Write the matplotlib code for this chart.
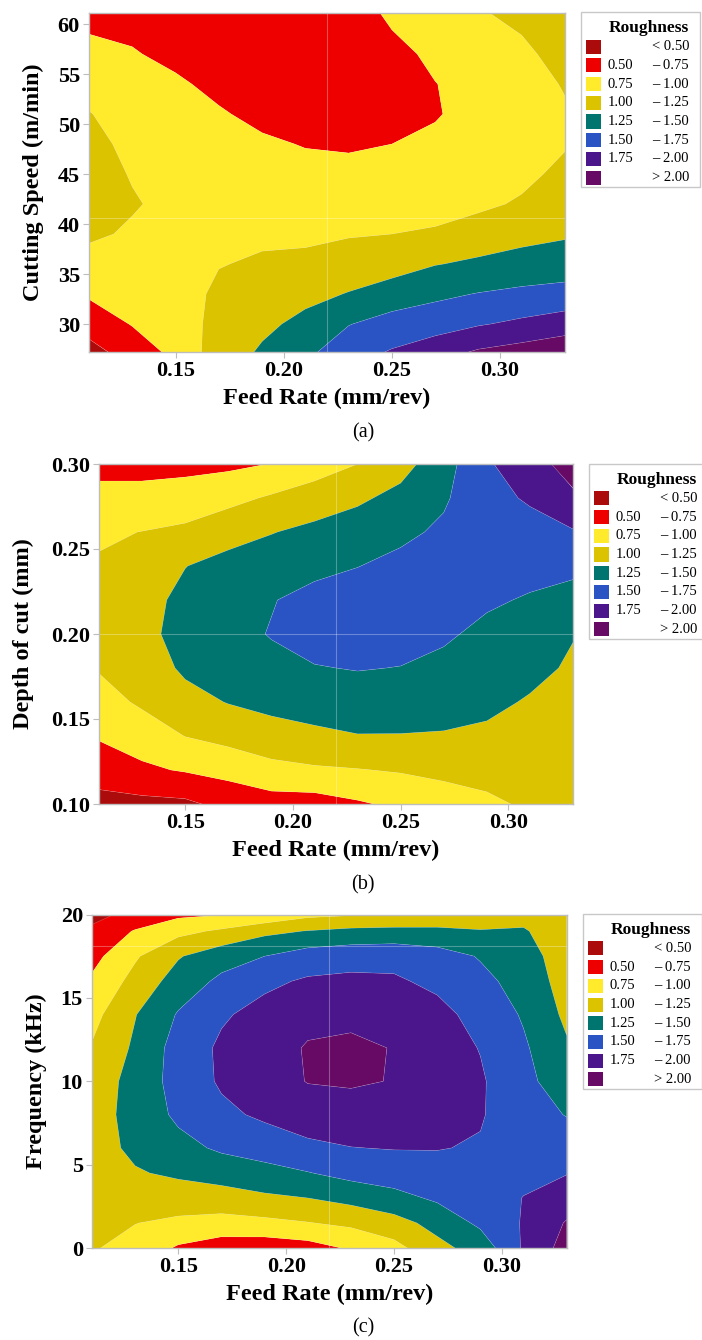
import numpy as np
import matplotlib
matplotlib.use("Agg")
import matplotlib.pyplot as plt
from matplotlib.patches import Rectangle

plt.rcParams['font.family'] = ['Liberation Serif', 'DejaVu Serif']

# ---------------- data ----------------
feed_rate = [0.11, 0.13, 0.15, 0.17, 0.19, 0.21, 0.23, 0.25, 0.27, 0.29, 0.31, 0.33]

# (a) cutting speed grid; each inner list = one feed-rate column (bottom -> top)
speed_a = [27.2, 30, 33, 36, 39, 42, 45, 48, 51, 54, 57, 61.13]
roughness_a = [
    [0.42, 0.593, 0.784, 0.911, 1.04, 1.08, 1.10, 1.06, 1.01, 0.912, 0.815, 0.68],
    [0.60, 0.764, 0.833, 0.90, 0.97, 1.02, 0.985, 0.95, 0.90, 0.84, 0.765, 0.68],
    [0.82, 0.85, 0.88, 0.92, 0.93, 0.94, 0.93, 0.90, 0.85, 0.78, 0.70, 0.63],
    [1.12, 1.09, 1.05, 0.99, 0.95, 0.92, 0.88, 0.83, 0.77, 0.70, 0.64, 0.58],
    [1.28, 1.20, 1.12, 1.03, 0.96, 0.91, 0.85, 0.78, 0.70, 0.63, 0.58, 0.54],
    [1.44, 1.31, 1.19, 1.06, 0.95, 0.88, 0.81, 0.74, 0.67, 0.60, 0.56, 0.53],
    [1.65, 1.49, 1.26, 1.13, 0.98, 0.90, 0.82, 0.72, 0.64, 0.60, 0.60, 0.62],
    [1.77, 1.60, 1.36, 1.15, 1.00, 0.92, 0.84, 0.75, 0.68, 0.65, 0.68, 0.80],
    [1.90, 1.64, 1.45, 1.24, 1.02, 0.94, 0.86, 0.79, 0.735, 0.745, 0.80, 0.90],
    [2.03, 1.73, 1.51, 1.29, 1.12, 0.95, 0.89, 0.84, 0.82, 0.83, 0.88, 0.98],
    [2.10, 1.80, 1.55, 1.35, 1.17, 1.03, 0.94, 0.89, 0.87, 0.89, 0.95, 1.06],
    [2.17, 1.88, 1.58, 1.38, 1.22, 1.14, 1.06, 0.98, 0.97, 1.02, 1.09, 1.18],
]

# (b) depth of cut grid
depth_b = [0.10, 0.12, 0.14, 0.16, 0.18, 0.20, 0.22, 0.24, 0.26, 0.28, 0.30]
roughness_b = [
    [0.43, 0.595, 0.776, 0.897, 1.02, 1.08, 1.09, 1.03, 0.96, 0.80, 0.70],
    [0.43, 0.71, 0.86, 1.04, 1.12, 1.18, 1.17, 1.11, 1.005, 0.80, 0.70],
    [0.45, 0.77, 1.005, 1.17, 1.29, 1.34, 1.31, 1.245, 1.06, 0.83, 0.70],
    [0.58, 0.83, 1.08, 1.26, 1.38, 1.44, 1.42, 1.33, 1.16, 0.93, 0.70],
    [0.64, 0.93, 1.15, 1.32, 1.45, 1.51, 1.49, 1.38, 1.24, 1.03, 0.755],
    [0.64, 0.97, 1.19, 1.38, 1.49, 1.58, 1.56, 1.45, 1.31, 1.12, 0.88],
    [0.72, 0.99, 1.24, 1.40, 1.51, 1.60, 1.61, 1.495, 1.37, 1.21, 1.00],
    [0.80, 1.02, 1.24, 1.38, 1.495, 1.58, 1.62, 1.56, 1.45, 1.32, 1.16],
    [0.88, 1.06, 1.23, 1.36, 1.45, 1.53, 1.59, 1.59, 1.54, 1.47, 1.40],
    [0.95, 1.09, 1.21, 1.30, 1.38, 1.45, 1.53, 1.60, 1.64, 1.67, 1.72],
    [1.04, 1.11, 1.18, 1.23, 1.31, 1.39, 1.48, 1.57, 1.66, 1.78, 1.90],
    [1.10, 1.13, 1.16, 1.19, 1.22, 1.26, 1.38, 1.58, 1.73, 1.96, 2.10],
]

# (c) frequency grid
freq_c = [0, 1.5, 3, 4.5, 6, 8, 10, 12, 14, 16, 17.5, 19, 20]
roughness_c = [
    [1.02, 1.06, 1.10, 1.13, 1.15, 1.15, 1.12, 1.02, 0.92, 0.79, 0.67, 0.54, 0.44],
    [0.92, 1.005, 1.14, 1.23, 1.30, 1.33, 1.33, 1.29, 1.24, 1.08, 0.97, 0.77, 0.56],
    [0.72, 0.95, 1.13, 1.29, 1.42, 1.55, 1.60, 1.60, 1.52, 1.36, 1.23, 0.93, 0.70],
    [0.62, 0.91, 1.15, 1.35, 1.54, 1.70, 1.78, 1.79, 1.72, 1.55, 1.40, 1.04, 0.74],
    [0.60, 0.94, 1.21, 1.41, 1.62, 1.79, 1.88, 1.89, 1.83, 1.70, 1.50, 1.19, 0.80],
    [0.65, 0.99, 1.25, 1.49, 1.70, 1.87, 2.01, 2.02, 1.93, 1.78, 1.62, 1.26, 0.94],
    [0.78, 1.05, 1.33, 1.58, 1.745, 1.89, 2.03, 2.05, 1.94, 1.80, 1.66, 1.31, 0.98],
    [0.92, 1.16, 1.42, 1.63, 1.76, 1.90, 1.99, 1.99, 1.92, 1.78, 1.68, 1.32, 1.02],
    [1.18, 1.33, 1.54, 1.66, 1.76, 1.85, 1.88, 1.87, 1.82, 1.70, 1.62, 1.29, 1.12],
    [1.35, 1.55, 1.64, 1.69, 1.73, 1.77, 1.78, 1.74, 1.67, 1.57, 1.48, 1.26, 1.15],
    [1.78, 1.77, 1.755, 1.70, 1.65, 1.60, 1.56, 1.535, 1.475, 1.40, 1.35, 1.27, 1.18],
    [2.10, 2.02, 1.87, 1.74, 1.62, 1.49, 1.38, 1.28, 1.20, 1.15, 1.13, 1.12, 1.11],
]

levels = [0.0, 0.5, 0.75, 1.0, 1.25, 1.5, 1.75, 2.0, 3.0]
band_colors = ['#AB0B0B', '#EE0000', '#FFEA2B', '#DBC300',
               '#00746F', '#2A54C4', '#4B168B', '#660A66']
legend_low = ['', '0.50', '0.75', '1.00', '1.25', '1.50', '1.75', '']
legend_high = ['< 0.50', '\u2013 0.75', '\u2013 1.00', '\u2013 1.25',
               '\u2013 1.50', '\u2013 1.75', '\u2013 2.00', '> 2.00']

xticks = [0.15, 0.20, 0.25, 0.30]
panels = [
    dict(y=speed_a, z=roughness_a, ylim=(27.2, 61.13), yticks=[30, 35, 40, 45, 50, 55, 60],
         yfmt='{:.0f}', ylabel='Cutting Speed (m/min)', tag='(a)', cross=(0.22, 40.6),
         box=(89, 12.7, 565, 352), leg=(581, 12.3), ylab_x=33, tag_y=433),
    dict(y=depth_b, z=roughness_b, ylim=(0.10, 0.30), yticks=[0.10, 0.15, 0.20, 0.25, 0.30],
         yfmt='{:.2f}', ylabel='Depth of cut (mm)', tag='(b)', cross=(0.22, 0.20),
         box=(99, 464, 573, 804), leg=(589, 464), ylab_x=23, tag_y=885),
    dict(y=freq_c, z=roughness_c, ylim=(0, 20), yticks=[0, 5, 10, 15, 20],
         yfmt='{:.0f}', ylabel='Frequency (kHz)', tag='(c)', cross=(0.22, 18.1),
         box=(92, 914.5, 566.7, 1248), leg=(583, 914), ylab_x=36, tag_y=1328),
]

W, H = 702, 1340
fig = plt.figure(figsize=(W / 100, H / 100), dpi=100)

def fx(px):
    return px / W

def fy(py):
    return 1 - py / H

for p in panels:
    l, t, r, b = p['box']
    ax = fig.add_axes([fx(l), fy(b), (r - l) / W, (b - t) / H])
    Z = np.array(p['z']).T
    ax.contourf(feed_rate, p['y'], Z, levels=levels, colors=band_colors, antialiased=True)
    ax.contour(feed_rate, p['y'], Z, levels=levels[1:-1], colors='white',
               linewidths=0.4, alpha=0.25)
    ax.axvline(p['cross'][0], color='white', lw=0.8, alpha=0.3)
    ax.axhline(p['cross'][1], color='white', lw=0.8, alpha=0.3)
    ax.set_xlim(0.11, 0.33)
    ax.set_ylim(*p['ylim'])
    ax.set_xticks(xticks)
    ax.set_xticklabels(['{:.2f}'.format(v) for v in xticks])
    ax.set_yticks(p['yticks'])
    ax.set_yticklabels([p['yfmt'].format(v) for v in p['yticks']])
    for s in ax.spines.values():
        s.set_color('#BDBDBD')
        s.set_linewidth(1.0)
    ax.tick_params(axis='both', length=4, width=0.8, color='#BDBDBD', pad=2.5,
                   labelsize=16)
    for lab in ax.get_xticklabels() + ax.get_yticklabels():
        lab.set_fontweight('bold')
    # axis labels
    fig.text(fx((l + r) / 2), fy(b + 46), 'Feed Rate (mm/rev)', ha='center', va='center',
             fontsize=17.5, fontweight='bold')
    fig.text(fx(p['ylab_x']), fy((t + b) / 2), p['ylabel'], rotation=90, ha='center',
             va='center', fontsize=17.5, fontweight='bold')
    fig.text(fx(363), fy(p['tag_y']), p['tag'], ha='center', va='center', fontsize=14.5)

    # legend
    lx, ly = p['leg']
    fig.patches.append(Rectangle((fx(lx), fy(ly + 175)), 119 / W, 175 / H,
                                 transform=fig.transFigure, facecolor='white',
                                 edgecolor='#C8C8C8', linewidth=1.0))
    fig.text(fx(lx + 108), fy(ly + 15.5), 'Roughness', ha='right', va='center',
             fontsize=12.5, fontweight='bold')
    for i, c in enumerate(band_colors):
        cy = ly + 34.4 + i * 18.7
        fig.patches.append(Rectangle((fx(lx + 5), fy(cy + 7)), 15 / W, 14 / H,
                                     transform=fig.transFigure, facecolor=c,
                                     edgecolor='none'))
        if legend_low[i]:
            fig.text(fx(lx + 27), fy(cy), legend_low[i], ha='left', va='center', fontsize=10.5)
        fig.text(fx(lx + 108), fy(cy), legend_high[i], ha='right', va='center', fontsize=10.5)

fig.savefig('out.png', dpi=100)
